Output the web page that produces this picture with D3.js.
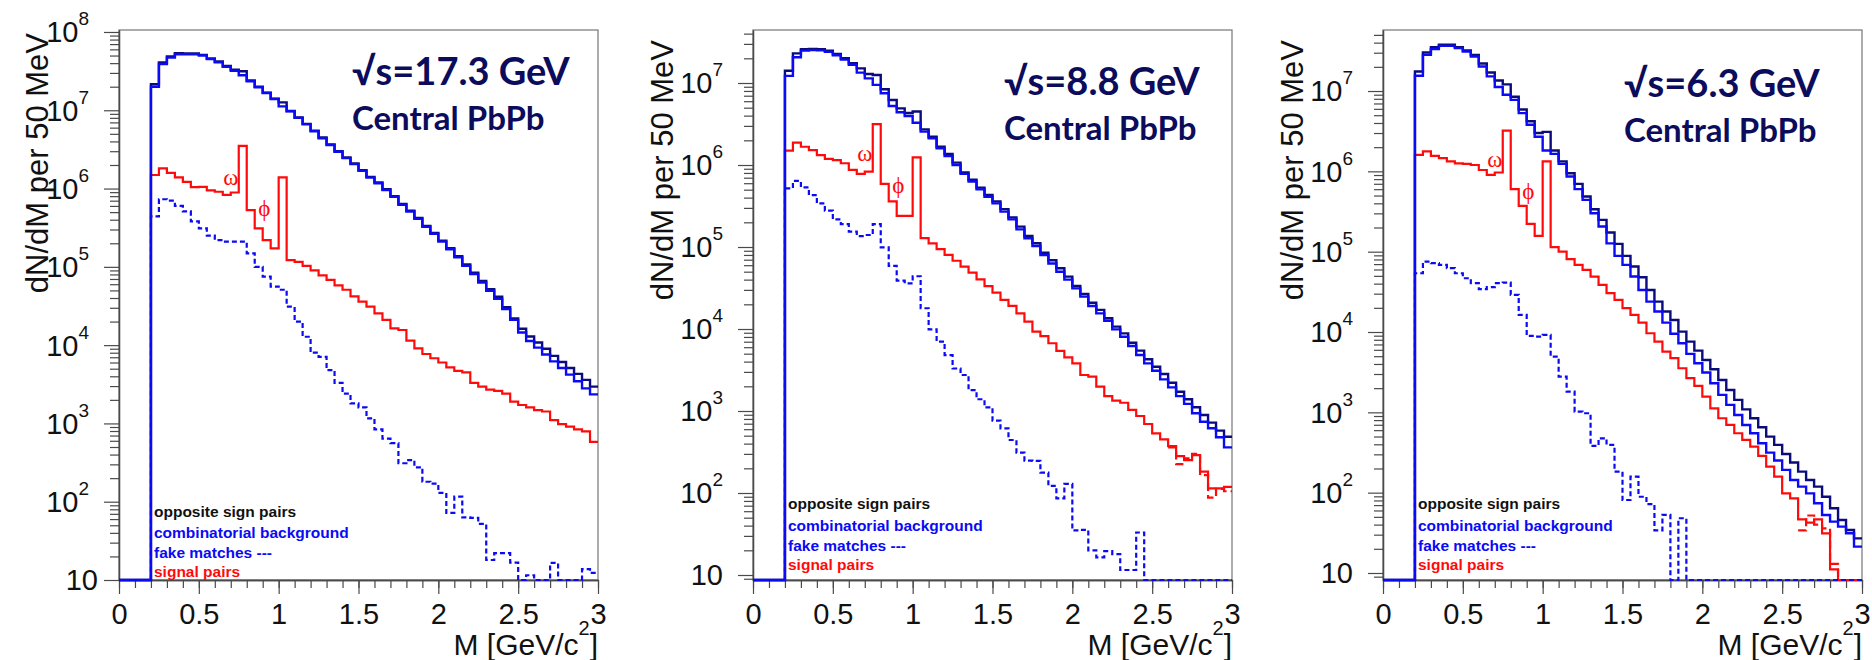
<!DOCTYPE html>
<html>
<head>
<meta charset="utf-8">
<script src="https://cdn.jsdelivr.net/npm/d3@7"></script>
<style>
  body { margin: 0; background: #fff; }
  svg { display: block; }
</style>
</head>
<body>
<svg id="chart" width="1872" height="660"></svg>
<script>
/* ------------------------------------------------------------ */
/* --------------------------- DATA --------------------------- */
/* ------------------------------------------------------------ */

// histograms have 50 MeV bins, first filled bin starts at 0.2 GeV/c^2
const binWidth = 0.05
const massStart = 0.2
const massMax = 3
const xTicksMajor = [0, 0.5, 1, 1.5, 2, 2.5, 3]
const xTickLabels = ['0', '0.5', '1', '1.5', '2', '2.5', '3']
const yExponents = [1, 2, 3, 4, 5, 6, 7, 8]
const legendLabels = ['opposite sign pairs', 'combinatorial background', 'fake matches ---', 'signal pairs']
const energyLabels = ['\u221As=17.3 GeV', '\u221As=8.8 GeV', '\u221As=6.3 GeV']
const systemLabel = 'Central PbPb'

/* ---- sqrt(s) = 17.3 GeV ---- */
const p1Opposite = [
    2.15e7, 4.08e7, 4.86e7, 5.34e7, 5.32e7, 5.30e7, 5.10e7, 4.60e7, 4.19e7, 3.68e7,
    3.29e7, 3.15e7, 2.40e7, 2.00e7, 1.68e7, 1.41e7, 1.26e7, 9.8e6, 8.1e6, 6.7e6,
    5.5e6, 4.48e6, 3.67e6, 3.0e6, 2.5e6, 2.09e6, 1.72e6, 1.41e6, 1.2e6, 9.8e5,
    8.0e5, 6.36e5, 5.2e5, 4.2e5, 3.33e5, 2.72e5, 2.16e5, 1.73e5, 1.37e5, 1.07e5,
    8.4e4, 6.6e4, 5.2e4, 4.15e4, 3.05e4, 2.2e4, 1.62e4, 1.29e4, 1.08e4, 9.0e3,
    7.3e3, 6.1e3, 5.1e3, 4.3e3, 3.6e3, 2.95e3
]
const p1Combinatorial = [
    2.0e7, 3.9e7, 4.7e7, 5.2e7, 5.2e7, 5.2e7, 5.0e7, 4.5e7, 4.1e7, 3.6e7,
    3.2e7, 2.8e7, 2.35e7, 1.97e7, 1.66e7, 1.39e7, 1.12e7, 9.7e6, 8.0e6, 6.6e6,
    5.4e6, 4.4e6, 3.6e6, 2.95e6, 2.45e6, 2.05e6, 1.68e6, 1.38e6, 1.17e6, 9.6e5,
    7.85e5, 6.2e5, 5.1e5, 4.1e5, 3.25e5, 2.65e5, 2.1e5, 1.68e5, 1.32e5, 1.03e5,
    8.1e4, 6.3e4, 4.95e4, 3.9e4, 2.9e4, 2.1e4, 1.45e4, 1.13e4, 9.3e3, 7.6e3,
    6.2e3, 5.1e3, 4.2e3, 3.45e3, 2.8e3, 2.35e3
]
const p1Fake = [
    4.4e5, 7.3e5, 7.0e5, 6.0e5, 5.1e5, 3.8e5, 3.1e5, 2.5e5, 2.2e5, 2.1e5,
    2.1e5, 2.1e5, 1.49e5, 1.0e5, 7.5e4, 5.6e4, 5.1e4, 3.1e4, 2.0e4, 1.28e4,
    8.0e3, 7.1e3, 4.8e3, 3.3e3, 2.4e3, 1.8e3, 1.6e3, 1.16e3, 840, 640,
    560, 310, 340, 275, 180, 170, 130, 72, 116, 63,
    62, 52, 18, 22, 22, 16.7, 0, 11.5, 0, 0,
    16.5, 0, 0, 0, 13.8, 12.3
]
const p1Signal = [
    1.49e6, 1.81e6, 1.59e6, 1.39e6, 1.22e6, 1.04e6, 1.05e6, 9.5e5, 9.1e5, 8.3e5,
    8.9e5, 3.5e6, 5.3e5, 3.1e5, 2.2e5, 1.72e5, 1.39e6, 1.22e5, 1.16e5, 1.03e5,
    9.0e4, 7.8e4, 6.8e4, 5.8e4, 5.1e4, 4.2e4, 3.6e4, 3.1e4, 2.55e4, 2.1e4,
    1.64e4, 1.56e4, 1.14e4, 9.1e3, 7.7e3, 6.8e3, 6.0e3, 5.2e3, 4.7e3, 4.5e3,
    3.3e3, 2.95e3, 2.7e3, 2.6e3, 2.4e3, 1.9e3, 1.72e3, 1.6e3, 1.48e3, 1.42e3,
    1.1e3, 980, 910, 840, 790, 580
]

/* ---- sqrt(s) = 8.8 GeV ---- */
const p2Opposite = [
    1.41e7, 2.30e7, 2.58e7, 2.60e7, 2.58e7, 2.48e7, 2.26e7, 2.00e7, 1.74e7, 1.51e7,
    1.29e7, 1.25e7, 8.4e6, 6.2e6, 4.9e6, 4.3e6, 4.5e6, 2.72e6, 2.21e6, 1.67e6,
    1.36e6, 1.07e6, 8.1e5, 6.6e5, 5.3e5, 4.3e5, 3.6e5, 2.9e5, 2.3e5, 1.77e5,
    1.36e5, 1.11e5, 8.5e4, 6.9e4, 5.5e4, 4.35e4, 3.34e4, 2.67e4, 2.09e4, 1.71e4,
    1.35e4, 1.07e4, 8.85e3, 6.8e3, 5.45e3, 4.27e3, 3.47e3, 2.83e3, 2.21e3, 1.72e3,
    1.39e3, 1.11e3, 894, 721, 576, 486
]
const p2Combinatorial = [
    1.22e7, 2.06e7, 2.48e7, 2.52e7, 2.50e7, 2.40e7, 2.18e7, 1.93e7, 1.67e7, 1.34e7,
    1.14e7, 9.5e6, 7.5e6, 5.25e6, 4.4e6, 3.96e6, 3.28e6, 2.55e6, 2.11e6, 1.60e6,
    1.29e6, 1.00e6, 7.8e5, 6.3e5, 5.05e5, 4.1e5, 3.4e5, 2.7e5, 2.17e5, 1.64e5,
    1.28e5, 1.03e5, 8.0e4, 6.3e4, 5.0e4, 4.0e4, 3.13e4, 2.48e4, 1.91e4, 1.55e4,
    1.26e4, 9.9e3, 8.06e3, 6.2e3, 4.82e3, 3.81e3, 3.10e3, 2.43e3, 1.94e3, 1.52e3,
    1.22e3, 937, 741, 615, 478, 360
]
const p2Fake = [
    5.2e5, 6.4e5, 5.35e5, 4.3e5, 3.4e5, 2.77e5, 2.17e5, 1.9e5, 1.54e5, 1.36e5,
    1.4e5, 1.9e5, 9.9e4, 5.9e4, 3.9e4, 3.6e4, 4.4e4, 1.79e4, 9.9e3, 7.0e3,
    4.8e3, 3.3e3, 2.75e3, 1.8e3, 1.39e3, 1.11e3, 762, 615, 443, 310,
    248, 246, 177, 122, 86, 129, 35, 35.5, 20, 16.4,
    19.5, 18, 11.5, 11.5, 33, 0, 0, 0, 0, 0,
    0, 0, 0, 0, 0, 0
]
const p2Signal = [
    1.50e6, 1.87e6, 1.67e6, 1.52e6, 1.32e6, 1.19e6, 1.15e6, 1.05e6, 8.7e5, 7.8e5,
    8.3e5, 3.16e6, 5.9e5, 3.6e5, 2.4e5, 2.4e5, 1.24e6, 1.28e5, 1.11e5, 9.4e4,
    8.0e4, 6.8e4, 5.75e4, 4.86e4, 4.03e4, 3.34e4, 2.77e4, 2.26e4, 1.91e4, 1.55e4,
    1.23e4, 9.3e3, 8.2e3, 6.7e3, 5.4e3, 4.5e3, 3.8e3, 2.75e3, 2.62e3, 1.98e3,
    1.52e3, 1.34e3, 1.26e3, 1.03e3, 869, 694, 534, 451, 374, 282,
    252, 290, 182, 114, 114, 119
]
// dashed signal variant, only visible where it leaves the solid one (from 2.6)
const p2SignalTailStart = 2.6
const p2SignalTail = [360, 225, 265, 300, 165, 88, 112, 105]

/* ---- sqrt(s) = 6.3 GeV ---- */
const p3Opposite = [
    1.75e7, 3.02e7, 3.52e7, 3.76e7, 3.76e7, 3.52e7, 3.20e7, 2.82e7, 2.2e7, 1.7e7,
    1.35e7, 1.21e7, 8.5e6, 5.9e6, 4.2e6, 3.0e6, 3.1e6, 1.82e6, 1.33e6, 9.49e5,
    6.99e5, 4.86e5, 3.38e5, 2.49e5, 1.73e5, 1.25e5, 8.87e4, 6.53e4, 4.81e4, 3.34e4,
    2.39e4, 1.80e4, 1.41e4, 1.01e4, 7.6e3, 5.87e3, 4.49e3, 3.44e3, 2.53e3, 1.90e3,
    1.43e3, 1.09e3, 844, 652, 499, 393, 303, 237, 183, 144,
    119, 89, 63.9, 45.7, 34.3, 27.0
]
const p3Combinatorial = [
    1.55e7, 2.82e7, 3.32e7, 3.65e7, 3.65e7, 3.42e7, 3.11e7, 2.69e7, 2.02e7, 1.52e7,
    1.12e7, 8.97e6, 7.77e6, 5.3e6, 3.8e6, 2.7e6, 1.82e6, 1.65e6, 1.24e6, 8.62e5,
    6.0e5, 4.42e5, 3.01e5, 2.06e5, 1.27e5, 8.87e4, 6.85e4, 4.9e4, 3.34e4, 2.39e4,
    1.80e4, 1.31e4, 9.5e3, 7.25e3, 5.34e3, 4.08e3, 3.13e3, 2.30e3, 1.65e3, 1.24e3,
    928, 697, 549, 412, 315, 251, 192, 144, 119, 98,
    73.7, 52.8, 43.6, 37.8, 31.2, 21.3
]
const p3Fake = [
    5.39e4, 7.54e4, 7.19e4, 6.85e4, 6.23e4, 5.39e4, 4.67e4, 4.05e4, 3.41e4, 3.61e4,
    4.05e4, 4.13e4, 2.90e4, 1.63e4, 8.94e3, 8.77e3, 9.2e3, 4.94e3, 2.79e3, 1.81e3,
    1.02e3, 974, 382, 475, 393, 183, 81, 158, 89, 72,
    34, 53, 0, 48, 0, 0, 0, 0, 0, 0,
    0, 0, 0, 0, 0, 0, 0, 0, 0, 0,
    0, 0, 0, 0, 0, 0
]
const p3Signal = [
    1.60e6, 1.77e6, 1.56e6, 1.46e6, 1.33e6, 1.26e6, 1.24e6, 1.20e6, 1.04e6, 9.04e5,
    9.67e5, 3.22e6, 6.0e5, 3.72e5, 2.22e5, 1.57e5, 1.33e6, 1.14e5, 1.00e5, 8.06e4,
    6.85e4, 5.93e4, 4.90e4, 3.86e4, 3.04e4, 2.51e4, 1.98e4, 1.63e4, 1.31e4, 9.65e3,
    7.60e3, 5.71e3, 4.72e3, 3.54e3, 2.66e3, 2.13e3, 1.57e3, 1.12e3, 844, 697,
    549, 453, 374, 287, 211, 158, 98, 85, 46.6, 42.4,
    46.6, 31.2, 11.1, 0, 0, 0
]
const p3SignalTailStart = 2.6
const p3SignalTail = [34, 52, 40, 36, 13, 0, 0, 0]

/* ------------------------------------------------------------ */
/* -------------------------- LAYOUT -------------------------- */
/* ------------------------------------------------------------ */

const frameTop = 30
const frameBottom = 580
const frameWidth = 479

const colors = {
    opposite: '#0b0b7a',
    combinatorial: '#0a0af5',
    signal: '#ff0a0a',
    title: '#0c0c5c',
    axis: '#4a4a4a',
    frame: '#808080'
}

const fontAxis = "'Liberation Sans', Arial, Helvetica, sans-serif"

const panels = [
    { left: 119, yDomain: [10, 1.06e8], tenOffset: 21, titleOffset: 71, titleTop: 33,
      textDx: 233, textY: [85, 130], legendY: [517, 538, 558, 577],
      opposite: p1Opposite, combinatorial: p1Combinatorial, fake: p1Fake, signal: p1Signal,
      tail: null, tailStart: null, energy: energyLabels[0] },
    { left: 753, yDomain: [8.69, 4.43e7], tenOffset: 30, titleOffset: 80, titleTop: 40,
      textDx: 251, textY: [95, 140], legendY: [509, 531, 551, 570],
      opposite: p2Opposite, combinatorial: p2Combinatorial, fake: p2Fake, signal: p2Signal,
      tail: p2SignalTail, tailStart: p2SignalTailStart, energy: energyLabels[1] },
    { left: 1383, yDomain: [8.18, 5.75e7], tenOffset: 30, titleOffset: 80, titleTop: 40,
      textDx: 241, textY: [97, 142], legendY: [509, 531, 551, 570],
      opposite: p3Opposite, combinatorial: p3Combinatorial, fake: p3Fake, signal: p3Signal,
      tail: p3SignalTail, tailStart: p3SignalTailStart, energy: energyLabels[2] }
]

// resonance labels, placed in data units (mass, counts)
const peakLabels = [
    { text: '\u03C9', m: 0.70, v: 1.12e6 },
    { text: '\u03D5', m: 0.91, v: 4.5e5 }
]

/* ------------------------------------------------------------ */
/* --------------------------- DRAW --------------------------- */
/* ------------------------------------------------------------ */

const svg = d3.select('#chart')

function histPoints(values, start, fromZero, yMin) {
    let pts = []
    if (fromZero) {
        pts.push([0, yMin])
        pts.push([start, yMin])
    }
    values.forEach(function (v, i) {
        let lo = start + i * binWidth
        pts.push([lo, v])
        pts.push([lo + binWidth, v])
    })
    return pts
}

function styleAxis(sel) {
    sel.select('.domain').attr('stroke', colors.axis).attr('stroke-width', 1.3)
    sel.selectAll('.tick line').attr('stroke', colors.axis).attr('stroke-width', 1.2)
    sel.selectAll('.tick text')
        .attr('font-family', fontAxis)
        .attr('font-size', 29)
        .attr('fill', '#111')
}

panels.forEach(function (p, idx) {
    let x = d3.scaleLinear().domain([0, massMax]).range([p.left, p.left + frameWidth])
    let y = d3.scaleLog().domain(p.yDomain).range([frameBottom, frameTop])
    let yMin = p.yDomain[0]
    let g = svg.append('g')

    // frame
    g.append('rect')
        .attr('x', p.left).attr('y', frameTop)
        .attr('width', frameWidth).attr('height', frameBottom - frameTop)
        .attr('fill', 'none').attr('stroke', colors.frame).attr('stroke-width', 1.3)

    // x axis: minor ticks then major ticks with labels
    let xMinor = d3.range(0, 31).map(function (i) { return i / 10 })
    g.append('g')
        .attr('transform', 'translate(0,' + frameBottom + ')')
        .call(d3.axisBottom(x).tickValues(xMinor).tickSize(8).tickSizeOuter(0).tickFormat(''))
        .call(styleAxis)
    g.append('g')
        .attr('transform', 'translate(0,' + frameBottom + ')')
        .call(d3.axisBottom(x).tickValues(xTicksMajor).tickSize(14).tickSizeOuter(0).tickPadding(9)
            .tickFormat(function (d, i) { return xTickLabels[i] }))
        .call(styleAxis)

    // y axis: log ticks, decades get labels
    let decades = yExponents.map(function (e) { return Math.pow(10, e) })
        .filter(function (v) { return v >= yMin && v <= p.yDomain[1] })
    let yMinor = []
    for (let e = 0; e <= 8; e++)
        for (let k = 2; k <= 9; k++) {
            let v = k * Math.pow(10, e)
            if (v >= yMin && v <= p.yDomain[1]) yMinor.push(v)
        }
    g.append('g')
        .attr('transform', 'translate(' + p.left + ',0)')
        .call(d3.axisLeft(y).tickValues(yMinor).tickSize(9).tickSizeOuter(0).tickFormat(''))
        .call(styleAxis)
    g.append('g')
        .attr('transform', 'translate(' + p.left + ',0)')
        .call(d3.axisLeft(y).tickValues(decades).tickSize(15).tickSizeOuter(0).tickFormat(''))
        .call(styleAxis)

    decades.forEach(function (v) {
        let e = Math.round(Math.log10(v))
        let t = g.append('text')
            .attr('y', y(v)).attr('dy', '0.36em')
            .attr('text-anchor', 'end')
            .attr('font-family', fontAxis).attr('font-size', 29).attr('fill', '#111')
        if (e === 1) {
            t.attr('x', p.left - p.tenOffset).text('10')
        } else {
            t.attr('x', p.left - 30)
            t.append('tspan').text('10')
            t.append('tspan').attr('font-size', 19).attr('dy', -17).text(e)
        }
    })

    // axis titles
    g.append('text')
        .attr('transform', 'translate(' + (p.left - p.titleOffset) + ',' + p.titleTop + ') rotate(-90)')
        .attr('text-anchor', 'end')
        .attr('font-family', fontAxis).attr('font-size', 31).attr('fill', '#111')
        .text('dN/dM per 50 MeV')

    let xt = g.append('text')
        .attr('x', p.left + frameWidth).attr('y', 655)
        .attr('text-anchor', 'end')
        .attr('font-family', fontAxis).attr('font-size', 30).attr('fill', '#111')
    xt.append('tspan').text('M [GeV/c')
    xt.append('tspan').attr('font-size', 20).attr('dy', -20).text('2')
    xt.append('tspan').attr('dy', 20).text(']')

    // histograms
    let clipId = 'clip' + idx
    g.append('clipPath').attr('id', clipId)
        .append('rect')
        .attr('x', p.left - 2).attr('y', frameTop)
        .attr('width', frameWidth + 4).attr('height', frameBottom - frameTop + 2)

    let line = d3.line()
        .x(function (d) { return x(d[0]) })
        .y(function (d) { return y(Math.max(d[1], yMin)) })

    let hg = g.append('g').attr('clip-path', 'url(#' + clipId + ')')

    // red first so the blue histograms sit on top along the 0.2 edge
    hg.append('path')
        .attr('d', line(histPoints(p.signal, massStart, true, yMin)))
        .attr('fill', 'none').attr('stroke', colors.signal).attr('stroke-width', 2.2)
    if (p.tail) {
        hg.append('path')
            .attr('d', line(histPoints(p.tail, p.tailStart, false, yMin)))
            .attr('fill', 'none')
            .attr('stroke', colors.signal)
            .attr('stroke-width', 2.2)
            .attr('stroke-dasharray', '8,4')
    }
    let series = [
        { values: p.fake, color: colors.combinatorial, width: 2.2, dash: '5,3' },
        { values: p.opposite, color: colors.opposite, width: 2.4, dash: null },
        { values: p.combinatorial, color: colors.combinatorial, width: 2.4, dash: null }
    ]
    series.forEach(function (s) {
        hg.append('path')
            .attr('d', line(histPoints(s.values, massStart, true, yMin)))
            .attr('fill', 'none')
            .attr('stroke', s.color)
            .attr('stroke-width', s.width)
            .attr('stroke-dasharray', s.dash)
    })

    // omega / phi labels
    peakLabels.forEach(function (l) {
        g.append('text')
            .attr('x', x(l.m)).attr('y', y(l.v))
            .attr('text-anchor', 'middle')
            .attr('font-family', "'Liberation Serif', 'DejaVu Serif', 'Times New Roman', serif")
            .attr('font-size', 23).attr('fill', colors.signal)
            .text(l.text)
    })

    // energy / system
    g.append('text')
        .attr('x', p.left + p.textDx).attr('y', p.textY[0])
        .attr('font-family', "Lato, 'Noto Sans', 'DejaVu Sans', sans-serif")
        .attr('font-weight', 'bold').attr('font-size', 38).attr('fill', colors.title)
        .text(p.energy)
    g.append('text')
        .attr('x', p.left + p.textDx).attr('y', p.textY[1])
        .attr('font-family', "Lato, 'Noto Sans', sans-serif")
        .attr('font-weight', 'bold').attr('font-size', 33).attr('fill', colors.title)
        .text(systemLabel)

    // legend text
    let legendColors = ['#111', colors.combinatorial, colors.combinatorial, colors.signal]
    legendLabels.forEach(function (txt, i) {
        g.append('text')
            .attr('x', p.left + 35).attr('y', p.legendY[i])
            .attr('font-family', fontAxis)
            .attr('font-weight', 'bold').attr('font-size', 15.5)
            .attr('fill', legendColors[i])
            .text(txt)
    })
})
</script>
</body>
</html>
